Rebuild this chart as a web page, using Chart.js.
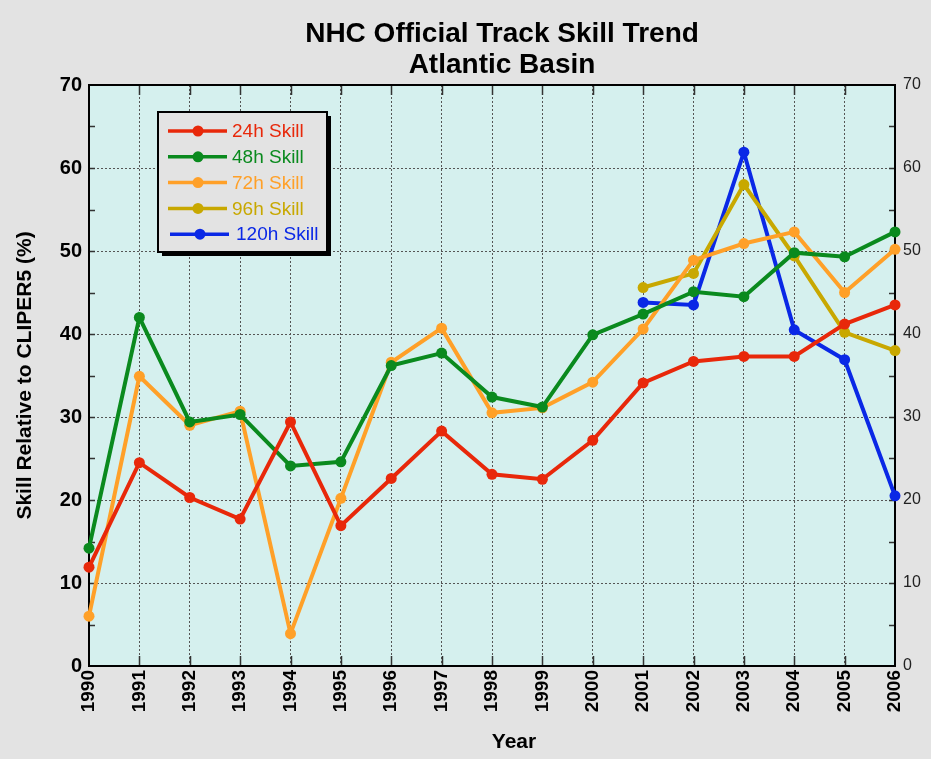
<!DOCTYPE html>
<html>
<head>
<meta charset="utf-8">
<script src="https://cdn.jsdelivr.net/npm/chart.js@4.4.1/dist/chart.umd.min.js"></script>
<style>
    html, body { margin: 0; padding: 0; background: #e3e3e3; }
    canvas { display: block; }
</style>
</head>
<body>
<canvas id="skillChart" width="931" height="759"></canvas>
<script>
// years on the x axis
const years = ['1990', '1991', '1992', '1993', '1994', '1995', '1996', '1997', '1998',
               '1999', '2000', '2001', '2002', '2003', '2004', '2005', '2006'];

// skill relative to CLIPER5 (%)
const skill24 = [11.9, 24.5, 20.3, 17.7, 29.4, 16.9, 22.6, 28.3, 23.1, 22.5, 27.2, 34.1, 36.7, 37.3, 37.3, 41.2, 43.5];
const skill48 = [14.2, 42.0, 29.4, 30.3, 24.1, 24.6, 36.2, 37.7, 32.4, 31.2, 39.9, 42.4, 45.1, 44.5, 49.8, 49.3, 52.3];
const skill72 = [6.0, 34.9, 29.0, 30.7, 3.9, 20.2, 36.6, 40.7, 30.5, 31.1, 34.2, 40.6, 48.9, 50.9, 52.3, 45.0, 50.2];
const skill96 = [null, null, null, null, null, null, null, null, null, null, null, 45.6, 47.3, 58.0, 49.4, 40.2, 38.0];
const skill120 = [null, null, null, null, null, null, null, null, null, null, null, 43.8, 43.5, 61.9, 40.5, 36.9, 20.5];

const seriesNames = ['24h Skill', '48h Skill', '72h Skill', '96h Skill', '120h Skill'];
const yTicks = [0, 10, 20, 30, 40, 50, 60, 70];

const colores = ['#e8280a', '#0a8a1e', '#ffa028', '#c8a800', '#0a28e6'];
const fondoPlot = '#d5f0ee';

function serie(i, data) {
    return {
        label: seriesNames[i],
        data: data,
        borderColor: colores[i],
        backgroundColor: colores[i],
        pointBackgroundColor: colores[i],
        pointBorderWidth: 0,
        pointRadius: 5.5,
        borderWidth: 4,
        tension: 0,
        spanGaps: false,
        clip: false
    };
}

// plot background, frame, inside tick marks, titles and legend
const decorado = {
    id: 'decorado',
    beforeDraw(chart) {
        const {ctx, chartArea: a} = chart;
        ctx.save();
        ctx.fillStyle = fondoPlot;
        ctx.fillRect(a.left, a.top, a.right - a.left, a.bottom - a.top);
        ctx.restore();
    },
    beforeDatasetsDraw(chart) {
        const {ctx, chartArea: a, scales} = chart;
        ctx.save();
        ctx.strokeStyle = '#333';
        ctx.lineWidth = 1.5;
        ctx.beginPath();
        for (let v = 5; v < 70; v += 5) {
            const y = Math.round(scales.y.getPixelForValue(v)) + 0.5;
            ctx.moveTo(a.left, y); ctx.lineTo(a.left + 6, y);
            ctx.moveTo(a.right, y); ctx.lineTo(a.right - 6, y);
        }
        for (let i = 1; i < years.length - 1; i++) {
            const x = Math.round(scales.x.getPixelForValue(i)) + 0.5;
            ctx.moveTo(x, a.bottom); ctx.lineTo(x, a.bottom - 10);
            ctx.moveTo(x, a.top); ctx.lineTo(x, a.top + 10);
        }
        ctx.stroke();
        ctx.strokeStyle = '#000';
        ctx.lineWidth = 2;
        ctx.strokeRect(a.left, a.top, a.right - a.left, a.bottom - a.top);
        ctx.restore();
    },
    afterDraw(chart) {
        const ctx = chart.ctx;
        ctx.save();
        ctx.fillStyle = '#000';
        ctx.textAlign = 'center';
        ctx.textBaseline = 'alphabetic';
        ctx.font = 'bold 28px "Liberation Sans", Arial, sans-serif';
        ctx.fillText('NHC Official Track Skill Trend', 502, 42);
        ctx.fillText('Atlantic Basin', 502, 73);
        ctx.font = 'bold 21px "Liberation Sans", Arial, sans-serif';
        ctx.fillText('Year', 514, 748);

        // legend box with shadow
        const bx = 158, by = 112, bw = 169, bh = 140;
        ctx.fillStyle = '#000';
        ctx.fillRect(bx + 4, by + 4, bw, bh);
        ctx.fillStyle = '#e3e3e3';
        ctx.fillRect(bx, by, bw, bh);
        ctx.strokeStyle = '#000';
        ctx.lineWidth = 2;
        ctx.strokeRect(bx, by, bw, bh);
        ctx.font = '19px "Liberation Sans", Arial, sans-serif';
        ctx.textAlign = 'left';
        ctx.textBaseline = 'middle';
        chart.data.datasets.forEach((ds, i) => {
            const y = 131 + i * 25.8;
            const dx = i === 4 ? 2 : 0;
            ctx.strokeStyle = ds.borderColor;
            ctx.lineWidth = 3.5;
            ctx.beginPath();
            ctx.moveTo(168 + dx, y); ctx.lineTo(227 + dx, y);
            ctx.stroke();
            ctx.fillStyle = ds.borderColor;
            ctx.beginPath();
            ctx.arc(198 + dx, y, 5.5, 0, Math.PI * 2);
            ctx.fill();
            ctx.fillText(ds.label, 232 + dx * 2, y + 1);
        });
        ctx.restore();
    }
};

document.addEventListener('DOMContentLoaded', function () {
    const ctxSkill = document.getElementById('skillChart').getContext('2d');
    new Chart(ctxSkill, {
        type: 'line',
        data: {
            labels: years,
            datasets: [
                serie(0, skill24),
                serie(1, skill48),
                serie(2, skill72),
                serie(3, skill96),
                serie(4, skill120)
            ]
        },
        options: {
            responsive: false,
            devicePixelRatio: 1,
            animation: false,
            layout: { padding: { top: 85, right: 0, bottom: 0, left: 0 } },
            plugins: {
                legend: { display: false },
                title: { display: false },
                tooltip: { enabled: false }
            },
            scales: {
                x: {
                    type: 'category',
                    offset: false,
                    grid: { color: '#555', lineWidth: 1, drawTicks: false },
                    border: { display: false, dash: [2, 2] },
                    ticks: {
                        color: '#000',
                        font: { family: '"Liberation Sans", Arial, sans-serif', size: 19, weight: 'bold' },
                        minRotation: 90,
                        maxRotation: 90,
                        autoSkip: false,
                        padding: 4
                    },
                    afterFit: function (scale) { scale.height = 93; }
                },
                y: {
                    position: 'left',
                    min: 0,
                    max: 70,
                    afterBuildTicks: function (scale) { scale.ticks = yTicks.map(v => ({ value: v })); },
                    grid: { color: '#555', lineWidth: 1, drawTicks: false },
                    border: { display: false, dash: [2, 2] },
                    ticks: {
                        color: '#000',
                        font: { family: '"Liberation Sans", Arial, sans-serif', size: 20, weight: 'bold' },
                        padding: 7
                    },
                    title: {
                        display: true,
                        text: 'Skill Relative to CLIPER5 (%)',
                        color: '#000',
                        font: { family: '"Liberation Sans", Arial, sans-serif', size: 21, weight: 'bold' },
                        padding: { top: 13, bottom: 0 }
                    },
                    afterFit: function (scale) { scale.width = 89; }
                },
                y2: {
                    position: 'right',
                    min: 0,
                    max: 70,
                    afterBuildTicks: function (scale) { scale.ticks = yTicks.map(v => ({ value: v })); },
                    grid: { display: false, drawTicks: false },
                    border: { display: false },
                    ticks: {
                        color: '#222',
                        font: { family: '"Liberation Sans", Arial, sans-serif', size: 16 },
                        padding: 8
                    },
                    afterFit: function (scale) { scale.width = 36; }
                }
            }
        },
        plugins: [decorado]
    });
});
</script>
</body>
</html>
